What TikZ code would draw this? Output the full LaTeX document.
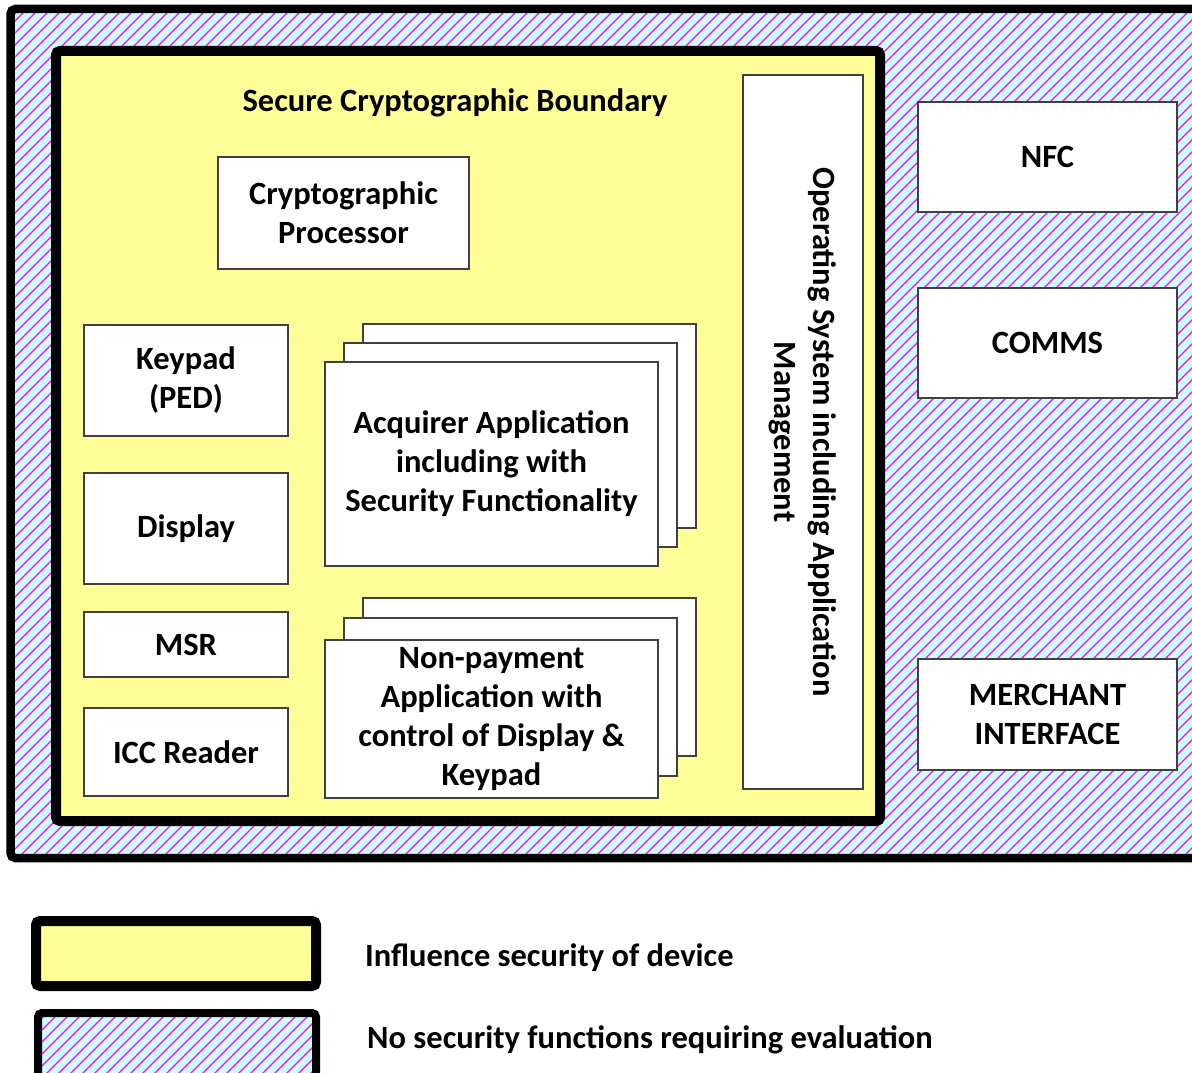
\documentclass[tikz,border=0pt]{standalone}
\usepackage{fontspec}
\setmainfont{Carlito}
\definecolor{hatchbg}{HTML}{CCFFFF}
\definecolor{hatchfg}{HTML}{FF00FF}
\definecolor{secyellow}{HTML}{FFFF99}
\definecolor{boxgray}{HTML}{404040}
\tikzset{
  box/.style={draw=boxgray, line width=1.3pt, fill=white, align=center, inner sep=0pt,
    font=\bfseries\fontsize{32.5}{39}\selectfont},
  lbl/.style={inner sep=0pt, font=\bfseries\fontsize{32.5}{39}\selectfont},
  hatchline/.style={hatchfg, line width=1.2pt},
}
\begin{document}
\begin{tikzpicture}[x=1pt,y=-1pt]
\useasboundingbox (0,0) rectangle (1192,1073);
\begin{scope}
\clip (0,0) rectangle (1192,1073);
% outer hatched area
\fill[hatchbg] (10.5,9) rectangle (1220,858);
\begin{scope}
\clip (10.5,9) rectangle (1220,858);
\foreach \a in {-900,-888,...,1250} {\draw[hatchline] (\a,900) -- (\a+900,0);}
\end{scope}
\draw[line width=8.5pt, rounded corners=5pt] (1220,9) -- (10.5,9) -- (10.5,858) -- (1220,858);
% inner yellow boundary
\draw[line width=10pt, rounded corners=4pt, fill=secyellow] (56,51) rectangle (880,821);
% legend
\draw[line width=10pt, rounded corners=4pt, fill=secyellow] (36,921) rectangle (316,986);
\fill[hatchbg] (38,1013) rectangle (316,1100);
\begin{scope}
\clip (38,1013) rectangle (316,1100);
\foreach \a in {-100,-88,...,400} {\draw[hatchline] (\a,1100) -- (\a+100,1000);}
\end{scope}
\draw[line width=8pt, rounded corners=4pt] (38,1100) -- (38,1013) -- (316,1013) -- (316,1100);
\end{scope}

\node[lbl] (title) at (455,103) {Secure Cryptographic Boundary};
\node[box, minimum width=251, minimum height=112] (crypto) at (343.5,213) {Cryptographic\\Processor};
\node[box, minimum width=204, minimum height=111] (keypad) at (186,380.5) {Keypad\\(PED)};
\node[box, minimum width=204, minimum height=111] (display) at (186,528.5) {Display};
\node[box, minimum width=204, minimum height=65] (msr) at (186,644.5) {MSR};
\node[box, minimum width=204, minimum height=88] (icc) at (186,752) {ICC Reader};

\node[box, minimum width=333, minimum height=204] (acqC) at (529.5,426) {};
\node[box, minimum width=333, minimum height=204] (acqB) at (510.5,445) {};
\node[box, minimum width=333, minimum height=204] (acqA) at (491.5,464) {Acquirer Application\\including with\\Security Functionality};

\node[box, minimum width=333, minimum height=158] (npC) at (529.5,677) {};
\node[box, minimum width=333, minimum height=158] (npB) at (510.5,697) {};
\node[box, minimum width=333, minimum height=158] (npA) at (491.5,719) {Non-payment\\Application with\\control of Display \&\\Keypad};

\node[box, rotate=-90, minimum width=714, minimum height=120] (os) at (803,432) {Operating System including Application\\Management};

\node[box, minimum width=259, minimum height=110] (nfc) at (1047.5,157) {NFC};
\node[box, minimum width=259, minimum height=110] (comms) at (1047.5,343) {COMMS};
\node[box, minimum width=259, minimum height=111] (merchant) at (1047.5,714.5) {MERCHANT\\INTERFACE};

\node[lbl, anchor=west] (leg1) at (365,958) {Influence security of device};
\node[lbl, anchor=west] (leg2) at (367,1040) {No security functions requiring evaluation};
\end{tikzpicture}
\end{document}
